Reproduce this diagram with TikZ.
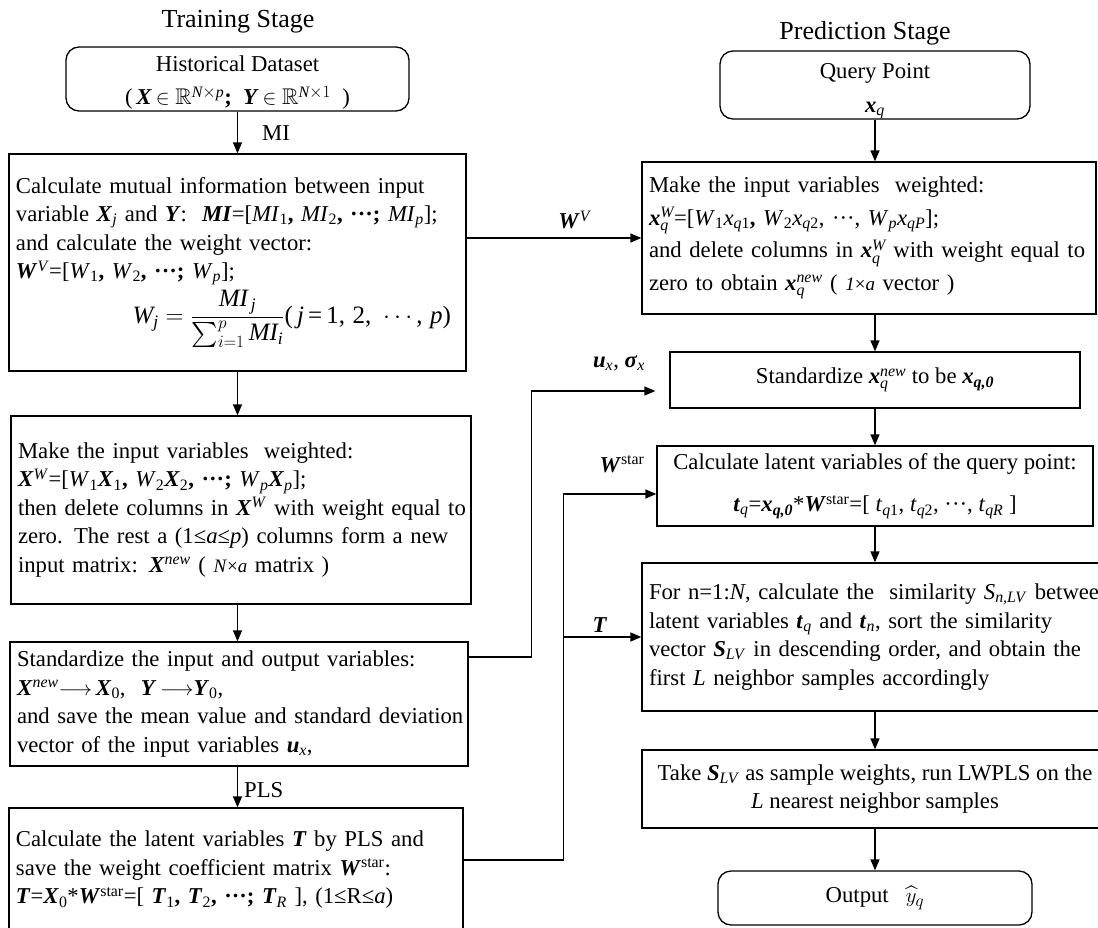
\documentclass[tikz,border=0pt]{standalone}
\usepackage{amsmath,amssymb}
\usepackage{fontspec}
\setmainfont{Liberation Serif}
\usetikzlibrary{arrows.meta}
\newcommand\bi[1]{\textbf{\textit{#1}}}
\newcommand\ti[1]{\text{\itshape #1}}
\newcommand\sub[1]{\textsubscript{#1}}
\newcommand\sups[1]{\textsuperscript{#1}}
\newcommand\subsup[2]{\ensuremath{_{\text{#1}}^{\text{#2}}}}
\newcommand\bdots{\textbf{···}}
\newcommand\mb[1]{\mbox{#1}}
\newcommand\bodyfont{\fontsize{22.7}{28.5}\selectfont}
\tikzset{
  pbox/.style={draw, line width=1.3pt, inner xsep=7pt, inner ysep=0pt, align=left, font=\bodyfont},
  rbox/.style={pbox, rounded corners=13pt},
  arr/.style={-{Triangle[length=11pt,width=9pt]}, line width=1.3pt},
  lab/.style={font=\bodyfont, inner sep=0pt},
  ttl/.style={font=\fontsize{26}{30}\selectfont, inner sep=0pt},
}
\begin{document}
\begin{tikzpicture}[x=1pt,y=-1pt]
\useasboundingbox (0,0) rectangle (1098,927);
\clip (0,0) rectangle (1098,927);

% titles
\node[ttl] (ts) at (238,22) {Training Stage};
\node[ttl] (ps) at (865,33) {Prediction Stage};

% training column
\node[rbox, minimum width=343pt, minimum height=64pt, align=center] (hist) at (237.5,79)
 {\rule{0pt}{23pt}Historical Dataset\\[5pt] (\,\bi{X}\,$\in\mathbb{R}^{\ti{N}\times\ti{p}}$\textbf{;}\ \ \bi{Y}\,$\in\mathbb{R}^{\ti{N}\times 1}$\ \ )};

\node[pbox, minimum width=457pt, minimum height=217pt, text width=443pt] (b1) at (237.5,262.5)
 {\mb{Calculate mutual information between input}\\
  \mb{variable \bi{X}\sub{\textit{j}} and \bi{Y}:\ \ \bi{MI}=[\textit{MI}\sub{1}\textbf{,} \textit{MI}\sub{2}\textbf{,} \bdots\textbf{;} \textit{MI}\sub{\textit{p}}];}\\
  \mb{and calculate the weight vector:}\\
  \mb{\bi{W}\sups{\textit{V}}=[\textit{W}\sub{1}\textbf{,} \textit{W}\sub{2}\textbf{,} \bdots\textbf{;} \textit{W}\sub{\textit{p}}];}\\[4pt]
  \makebox[\linewidth][r]{\fontsize{25}{30}\selectfont$\ti{W}_{\ti{j}}=\dfrac{\ti{MI}_{\,\ti{j}}}{\sum_{i=1}^{p}\ti{MI}_{\ti{i}}}\text{(\,\itshape j\/\upshape\,=\,1, 2, }\cdots\text{, \itshape p\/\upshape)}$\hspace{8pt}}};

\node[pbox, minimum width=460pt, minimum height=188pt, text width=446pt] (b2) at (241,510)
 {\mb{Make the input variables\ \ weighted:}\\
  \mb{\bi{X}\sups{\textit{W}}=[\textit{W}\sub{1}\bi{X}\sub{1}\textbf{,} \textit{W}\sub{2}\bi{X}\sub{2}\textbf{,} \bdots\textbf{;} \textit{W}\sub{\textit{p}}\bi{X}\sub{\textit{p}}];}\\
  \mb{then delete columns in \bi{X}\sups{\textit{W}} with weight equal to}\\
  \mb{zero. The rest a (1≤\textit{a}≤\textit{p}) columns form a new}\\
  \mb{input matrix: \bi{X}\sups{\textit{new}} ( {\fontsize{19}{20}\selectfont\textit{N}×\textit{a}} matrix )}};

\node[pbox, minimum width=458pt, minimum height=124pt, text width=444pt] (b3) at (239,704)
 {\mb{Standardize the input and output variables:}\\
  \mb{\bi{X}\sups{\textit{new}}$\longrightarrow$\,\bi{X}\sub{0},\ \ \bi{Y}\,$\longrightarrow$\bi{Y}\sub{0},}\\
  \mb{and save the mean value and standard deviation}\\
  \mb{vector of the input variables \bi{u}\sub{\textit{x}},}};

\node[pbox, minimum width=454pt, minimum height=124pt, text width=440pt] (b4) at (236,870)
 {\mb{Calculate the latent variables \bi{T} by PLS and}\\
  \mb{save the weight coefficient matrix \bi{W}\sups{star}:}\\
  \mb{\bi{T}=\bi{X}\sub{0}*\bi{W}\sups{star}=[ \bi{T}\sub{1}\textbf{,} \bi{T}\sub{2}\textbf{,} \bdots\textbf{;} \bi{T}\sub{\textit{R}} ], (1≤R≤\textit{a})}};

% prediction column
\node[rbox, minimum width=310pt, minimum height=64pt, align=center] (q) at (875,85)
 {\rule{0pt}{27pt}Query Point\\[6pt] \bi{x}\sub{\textit{q}}};

\node[pbox, minimum width=454pt, minimum height=152pt, text width=440pt] (r1) at (869,238)
 {\mb{Make the input variables\ \ weighted:}\\[4pt]
  \mb{\bi{x}\subsup{\itshape q}{\itshape W}=[\textit{W}\sub{1}\textit{x}\sub{\textit{q}1}\textbf{,} \textit{W}\sub{2}\textit{x}\sub{\textit{q}2}, ···, \textit{W}\sub{\textit{p}}\textit{x}\sub{\textit{qP}}];}\\[4pt]
  \mb{and delete columns in \bi{x}\subsup{\itshape q}{\itshape W} with weight equal to}\\[4pt]
  \mb{zero to obtain \bi{x}\subsup{\itshape q}{\itshape new} ( {\fontsize{19}{20}\selectfont\textit{1}×\textit{a}} vector )}};

\node[pbox, minimum width=410pt, minimum height=56pt, align=center] (r2) at (875,380)
 {Standardize \bi{x}\subsup{\itshape q}{\itshape new} to be \bi{x}\sub{\bi{q,0}}};

\node[pbox, minimum width=436pt, minimum height=80pt, align=center] (r3) at (875,486)
 {Calculate latent variables of the query point:\\[14pt]
  \bi{t}\sub{\textit{q}}=\bi{x}\sub{\bi{q,0}}*\bi{W}\sups{star}=[ \textit{t}\sub{\textit{q}1}, \textit{t}\sub{\textit{q}2}, ···, \textit{t}\sub{\textit{qR}} ]};

\node[pbox, minimum width=466pt, minimum height=148pt, text width=452pt] (r4) at (875,637)
 {\mb{For n=1:\textit{N}, calculate the\ \ similarity \textit{S}\sub{\textit{n,LV}} between}\\
  \mb{latent variables \bi{t}\sub{\textit{q}} and \bi{t}\sub{\textit{n}}, sort the similarity}\\
  \mb{vector \bi{S}\sub{\textit{LV}} in descending order, and obtain the}\\
  \mb{first \textit{L} neighbor samples accordingly}};

\node[pbox, minimum width=466pt, minimum height=78pt, align=center] (r5) at (875,789)
 {Take \bi{S}\sub{\textit{LV}} as sample weights, run LWPLS on the\\
  \textit{L} nearest neighbor samples};

\node[rbox, minimum width=314pt, minimum height=54pt, align=center] (out) at (875,898)
 {Output\ \ \ $\widehat{y}_q$};

% training arrows
\draw[arr] (hist.south) -- (hist.south |- b1.north);
\draw[arr] (b1.south -| hist.south) -- (hist.south |- b2.north);
\draw[arr] (b2.south -| hist.south) -- (hist.south |- b3.north);
\draw[arr] (b3.south -| hist.south) -- (hist.south |- b4.north);

% prediction arrows
\draw[arr] (q.south) -- (q.south |- r1.north);
\draw[arr] (q.south |- r1.south) -- (r2.north);
\draw[arr] (r2.south) -- (r3.north);
\draw[arr] (r3.south) -- (r4.north);
\draw[arr] (r4.south) -- (r5.north);
\draw[arr] (r5.south) -- (out.north);

% cross connectors
\draw[arr] (r1.west -| b1.east) -- (r1.west);
\draw[arr] ([yshift=47pt]b3.east) -- ++(63,0) |- ([xshift=-14pt,yshift=-11pt]r2.west);
\coordinate (vx) at ([xshift=100pt,yshift=10pt]b4.east);
\draw[arr] ([yshift=10pt]b4.east) -- (vx) |- ([yshift=-8pt]r3.west);
\draw[arr] (r4.west -| vx) -- (r4.west);

% labels
\node[lab, anchor=west] (lmi) at (262,133) {MI};
\node[lab, anchor=west] (lpls) at (244,790) {PLS};
\node[lab] (lwv) at (575,220) {\bi{W}\sups{\textit{V}}};
\node[lab] (lux) at (619,363) {\bi{u}\sub{\textit{x}}, \bi{σ}\sub{\textit{x}}};
\node[lab] (lws) at (622,464) {\bi{W}\sups{star}};
\node[lab] (lt) at (600,625) {\bi{T}};
\end{tikzpicture}
\end{document}
